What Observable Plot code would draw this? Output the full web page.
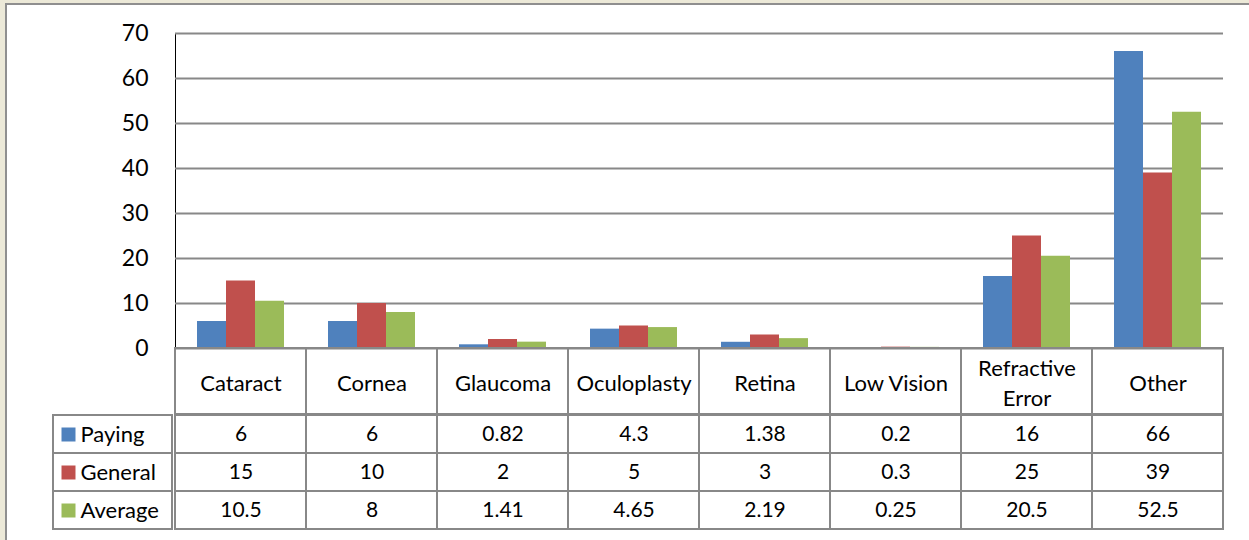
<!DOCTYPE html>
<html><head><meta charset="utf-8">
<script src="https://cdn.jsdelivr.net/npm/d3@7"></script>
<script src="https://cdn.jsdelivr.net/npm/@observablehq/plot@0.6"></script>
<style>
html,body{margin:0;padding:0;background:#ECE9D8;overflow:hidden;width:1249px;height:540px;}
#frame{position:absolute;left:5px;top:3px;width:1300px;height:600px;background:#fff;border:2px solid #8f8f8f;}
svg [aria-label="y-axis tick label"]{font-size:23px !important;}
</style></head><body>
<div id="frame"></div>
<script>
const categories = ["Cataract","Cornea","Glaucoma","Oculoplasty","Retina","Low Vision","Refractive Error","Other"];
const series = ["Paying","General","Average"];
const paying  = [6, 6, 0.82, 4.3, 1.38, 0.2, 16, 66];
const general = [15, 10, 2, 5, 3, 0.3, 25, 39];
const average = [10.5, 8, 1.41, 4.65, 2.19, 0.25, 20.5, 52.5];
const yTicks = [0, 10, 20, 30, 40, 50, 60, 70];
const colors = ["#4F81BD", "#C0504D", "#9BBB59"];

const valuesBySeries = [paying, general, average];
const rows = series.flatMap((s, j) => categories.map((c, i) => ({category: c, series: s, value: valuesBySeries[j][i]})));

const W = 1249, H = 540;
const gray = "#888888";
const font = "Lato, 'Open Sans', sans-serif";
const baseStyle = {position: "absolute", left: "0px", top: "0px", background: "transparent", maxWidth: "none", fontFamily: font, fontSize: "21px", color: "#000", overflow: "visible"};

// Chart: bars
const chart = Plot.plot({
  width: W, height: H,
  marginLeft: 172, marginRight: 24, marginTop: 33, marginBottom: 192,
  style: baseStyle,
  fx: {domain: categories, padding: 0, axis: null},
  x: {domain: series, paddingInner: 0, paddingOuter: 0.74, axis: null},
  y: {domain: [0, 70], ticks: yTicks, tickSize: 0, tickPadding: 27, label: null, line: true},
  color: {domain: series, range: colors},
  marks: [
    Plot.ruleY(yTicks, {stroke: gray, strokeWidth: 1.8}),
    Plot.barY(rows, {fx: "category", x: "series", y: "value", fill: "series"})
  ]
});
document.body.appendChild(chart);

// Table header row: category names
const header = Plot.plot({
  width: W, height: H,
  marginLeft: 172, marginRight: 24, marginTop: 348, marginBottom: 126,
  style: baseStyle,
  x: {domain: categories, padding: 0, axis: null},
  marks: [
    Plot.cell(categories, {x: d => d, stroke: gray, strokeWidth: 2, fill: "none", inset: 0}),
    Plot.text(categories, {x: d => d, text: d => d, lineWidth: 6, lineHeight: 1.36, fontSize: 22, fill: "#000"})
  ]
});
document.body.appendChild(header);

// Table body: values
const body = Plot.plot({
  width: W, height: H,
  marginLeft: 172, marginRight: 24, marginTop: 414, marginBottom: 10,
  style: baseStyle,
  x: {domain: categories, padding: 0, axis: null},
  y: {domain: series, padding: 0, axis: null},
  marks: [
    Plot.cell(rows, {x: "category", y: "series", stroke: gray, strokeWidth: 2, fill: "none", inset: 0}),
    Plot.text(rows, {x: "category", y: "series", text: d => String(d.value), fontSize: 21, fill: "#000"})
  ]
});
document.body.appendChild(body);

// Table row labels with legend swatches
const labels = Plot.plot({
  width: W, height: H,
  marginLeft: 53, marginRight: W - 172, marginTop: 414, marginBottom: 10,
  style: baseStyle,
  y: {domain: series, padding: 0, axis: null},
  color: {domain: series, range: colors},
  marks: [
    Plot.cell(series, {y: d => d, stroke: gray, strokeWidth: 2, fill: "none", inset: 0}),
    Plot.dot(series, {y: d => d, frameAnchor: "left", dx: 15, symbol: "square", r: 7.9, fill: d => d, stroke: null}),
    Plot.text(series, {y: d => d, text: d => d, frameAnchor: "left", textAnchor: "start", dx: 27, fontSize: 22, fill: "#000"})
  ]
});
document.body.appendChild(labels);
</script>
</body></html>
